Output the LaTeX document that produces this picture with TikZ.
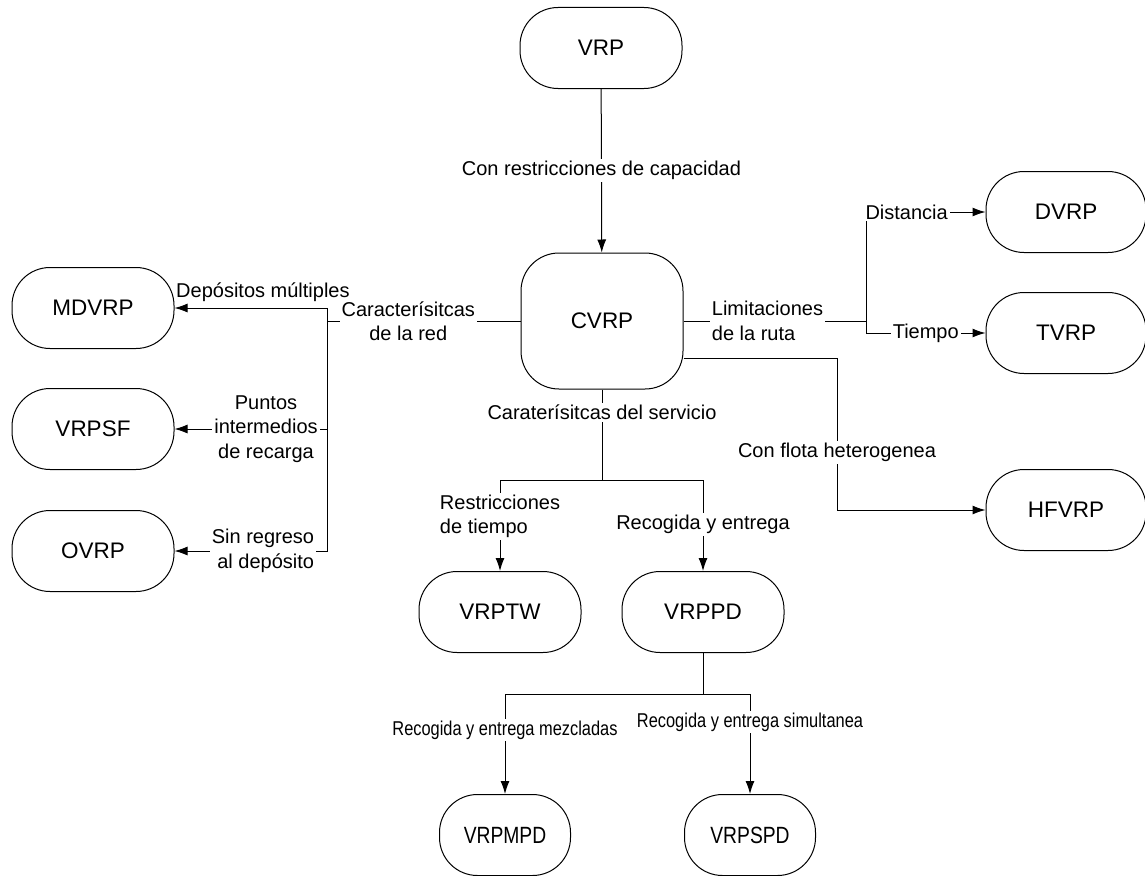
\documentclass[tikz,border=0pt]{standalone}
\usepackage{fontspec}
\setmainfont{Liberation Sans}
\newfontfamily\narrowfont[FakeStretch=0.82]{Liberation Sans}
\usetikzlibrary{arrows.meta,positioning}

\begin{document}
\begin{tikzpicture}[
  x=1pt,y=-1pt,
  box/.style={rectangle,draw,line width=1pt,rounded corners=38pt,align=center,minimum width=162pt,minimum height=81pt,font=\fontsize{22.5}{26}\selectfont},
  lbl/.style={fill=white,inner sep=2pt,align=center,font=\fontsize{20}{24.5}\selectfont},
  narrow/.style={font=\narrowfont\fontsize{20}{24.5}\selectfont},
  arr/.style={-{Latex[length=13pt,width=9pt]},line width=1pt},
  ln/.style={line width=1pt}
]
\useasboundingbox (0,0) rectangle (1145,875);

\node[box] (vrp) at (601,48) {VRP};
\node[box,minimum height=136pt] (cvrp) at (602,321) {CVRP};

\node[box] (mdvrp) at (93,308) {MDVRP};
\node[box] (vrpsf) at (93,429) {VRPSF};
\node[box] (ovrp) at (93,551) {OVRP};

\node[box,minimum width=160pt] (dvrp) at (1066,212) {DVRP};
\node[box,minimum width=160pt] (tvrp) at (1066,333) {TVRP};
\node[box,minimum width=160pt] (hfvrp) at (1066,510) {HFVRP};

\node[box] (vrptw) at (500,612) {VRPTW};
\node[box] (vrppd) at (703,612) {VRPPD};
\node[box,minimum width=131pt,font=\narrowfont\fontsize{23.5}{26}\selectfont] (vrpmpd) at (505,835) {VRPMPD};
\node[box,minimum width=131pt,font=\narrowfont\fontsize{23.5}{26}\selectfont] (vrpspd) at (750,835) {VRPSPD};

\coordinate (netj) at (327,321);
\coordinate (routej) at (866,321);
\coordinate (fleetj) at (837,510);
\coordinate (servj) at (602,480);
\coordinate (pdj) at (703,694);

\draw[arr] (vrp) -- node[lbl] {Con restricciones de capacidad} (cvrp);

% red
\draw[ln] (cvrp.west) -- node[lbl,pos=0.58] {Caracterísitcas\\de la red} (netj);
\draw[arr] (netj) |- node[above=6pt,pos=0.71,font=\fontsize{20}{24.5}\selectfont,inner sep=0pt] {Depósitos múltiples} (mdvrp);
\draw[arr] (netj |- vrpsf) -- node[lbl,pos=0.4] {Puntos\\intermedios\\de recarga} (vrpsf);
\draw[arr] (netj) |- node[lbl,pos=0.71,align=right] {Sin regreso\\al depósito} (ovrp);

% ruta
\draw[ln] (cvrp.east) -- node[lbl,pos=0.46,align=left] {Limitaciones\\de la ruta} (routej);
\draw[arr] (routej) |- node[lbl,pos=0.67] {Distancia} (dvrp);
\draw[arr] (routej) |- node[lbl,pos=0.75] {Tiempo} (tvrp);
\draw[arr] ([yshift=-37pt]cvrp.east) -| node[lbl,pos=0.81] {Con flota heterogenea} (fleetj) -- (hfvrp);

% servicio
\draw[ln] (cvrp) -- node[lbl,pos=0.25] {Caraterísitcas del servicio} (servj);
\draw[arr] (servj) -| node[lbl,pos=0.7,align=left] {Restricciones\\de tiempo} (vrptw);
\draw[arr] (servj) -| node[lbl,pos=0.745] {Recogida y entrega} (vrppd);

\draw[ln] (vrppd) -- (pdj);
\draw[arr] (pdj) -| node[lbl,narrow,pos=0.68] {Recogida y entrega mezcladas} (vrpmpd);
\draw[arr] (pdj) -| node[lbl,narrow,pos=0.64] {Recogida y entrega simultanea} (vrpspd);
\end{tikzpicture}
\end{document}
